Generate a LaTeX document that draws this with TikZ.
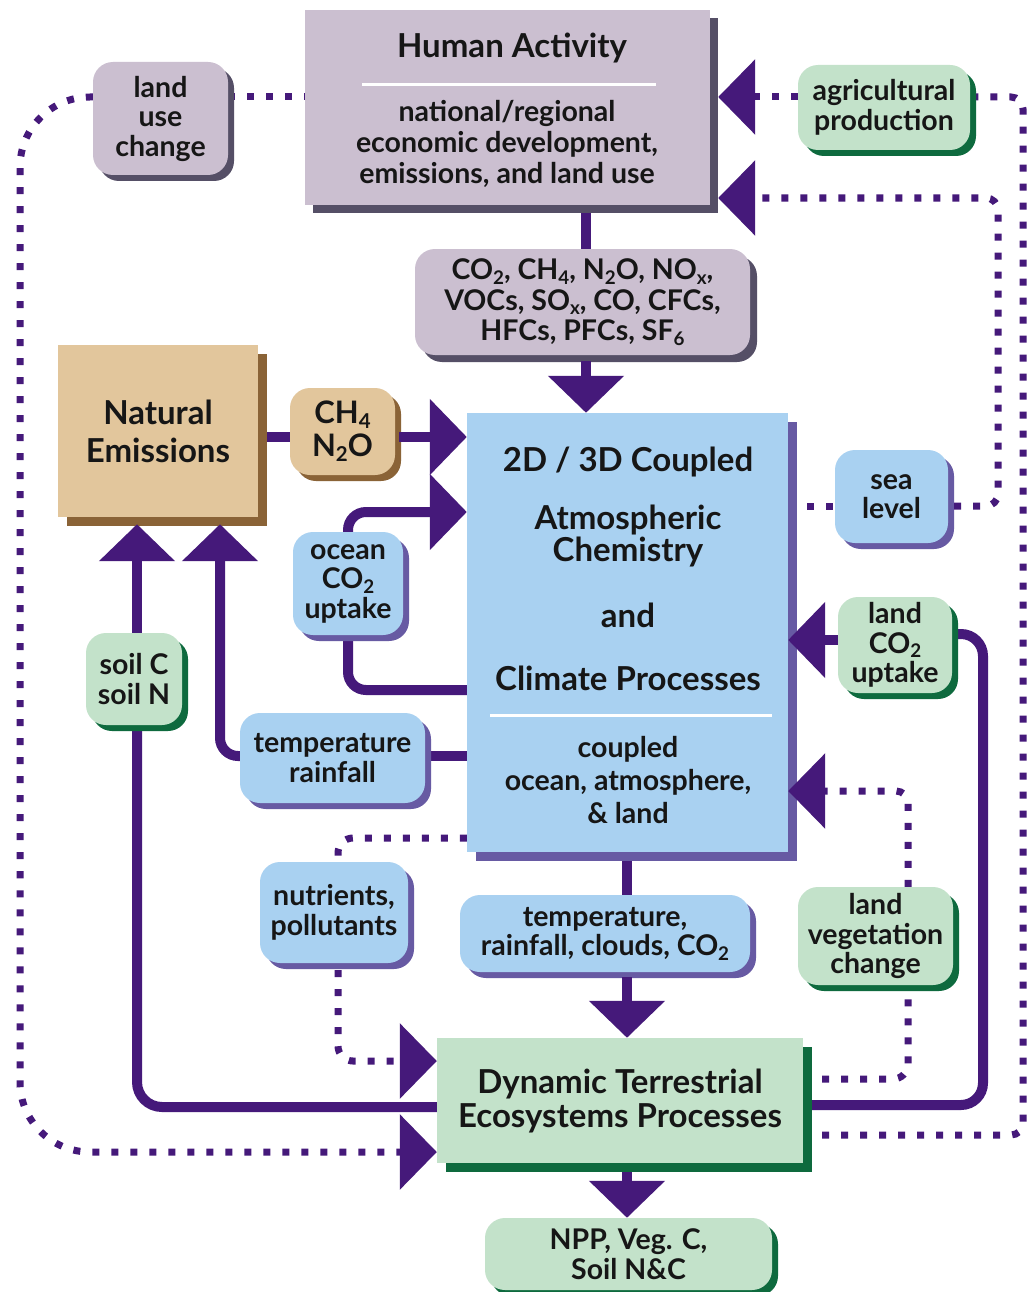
\documentclass[tikz,border=0pt]{standalone}
\usepackage{fontspec}
\setmainfont{Lato}
\usetikzlibrary{arrows.meta,shadows,backgrounds}
\definecolor{cLav}{HTML}{CBBFD0}
\definecolor{cLavSh}{HTML}{554F66}
\definecolor{cSky}{HTML}{A9D1F1}
\definecolor{cSkySh}{HTML}{675AA3}
\definecolor{cMint}{HTML}{C3E2CA}
\definecolor{cMintSh}{HTML}{0E6A3E}
\definecolor{cTan}{HTML}{E2C69C}
\definecolor{cTanSh}{HTML}{8A6337}
\definecolor{cInk}{HTML}{45197A}
\definecolor{cTxt}{HTML}{161616}
\newcommand\bodyf{\fontsize{28.5}{29.5}\selectfont\bfseries}
\newcommand\titlef{\fontsize{33}{34}\selectfont\bfseries}
\newcommand\lsb[1]{\raisebox{-0.16em}{\scalebox{0.66}{#1}}}
\tikzset{
  bx/.style={inner sep=0pt, align=center, text=cTxt, font=\bodyf},
  rbx/.style={bx, rounded corners=20pt},
  lavf/.style={fill=cLav, general shadow={fill=cLavSh, shadow xshift=#1, shadow yshift=-#1}},
  lavf/.default=6pt,
  skyf/.style={fill=cSky, general shadow={fill=cSkySh, shadow xshift=#1, shadow yshift=-#1}},
  skyf/.default=6pt,
  mintf/.style={fill=cMint, general shadow={fill=cMintSh, shadow xshift=#1, shadow yshift=-#1}},
  mintf/.default=6pt,
  tanf/.style={fill=cTan, general shadow={fill=cTanSh, shadow xshift=#1, shadow yshift=-#1}},
  tanf/.default=6pt,
  flow/.style={draw=cInk, line width=10pt},
  dotl/.style={draw=cInk, line width=7pt, dash pattern=on 7pt off 12pt},
  tipx/.style={-{Triangle[length=37pt,width=74pt]}},
  txt/.style={inner sep=0pt, align=center, text=cTxt},
  divl/.style={draw=white, line width=3pt},
}
\begin{document}
\begin{tikzpicture}[x=1pt,y=-1pt]
\useasboundingbox (0,0) rectangle (1030,1292);
% helper coordinates for connector routes
\coordinate (xg) at (586,0);
\coordinate (xc) at (627,0);
\coordinate (xoc) at (348,0);
\coordinate (xtr) at (220,0);
\coordinate (xsoil) at (137,0);
\coordinate (xnu) at (338,0);
\coordinate (xlu) at (20,0);
\coordinate (xag) at (1023,0);
\coordinate (xsea) at (998,0);
\coordinate (xlc) at (983,0);
\coordinate (xlv) at (908,0);
\coordinate (yce) at (0,437);
\coordinate (yoc1) at (0,512);
\coordinate (yoc2) at (0,690);
\coordinate (ytr) at (0,756);
\coordinate (ysoil) at (0,1107);
\coordinate (ynu1) at (0,838);
\coordinate (ynu2) at (0,1061);
\coordinate (ytop) at (0,97);
\coordinate (ylu) at (0,1152);
\coordinate (yag) at (0,1135);
\coordinate (ysea1) at (0,198);
\coordinate (ysea2) at (0,506);
\coordinate (ylc1) at (0,640);
\coordinate (ylc2) at (0,1105);
\coordinate (ylc3) at (0,634);
\coordinate (ylv1) at (0,1079);
\coordinate (ylv2) at (0,791);

% boxes
\node[bx, lavf=8pt, minimum width=405pt, minimum height=195pt] (human) at (507.5,107.5) {};
\node[txt, font=\titlef] (humant) at (512,48) {Human Activity};
\draw[divl] (362,85) -- (656,85);
\node[txt, font=\fontsize{28.5}{31}\selectfont\bfseries] (humanb) at (507,144) {national/regional\\economic development,\\emissions, and land use};

\node[rbx, lavf, minimum width=135pt, minimum height=113pt] (landuse) at (160.5,118.5) {land\\use\\change};
\node[rbx, mintf, minimum width=172pt, minimum height=85pt] (agri) at (884,107.5) {agricultural\\production};
\node[rbx, lavf=7pt, minimum width=335pt, minimum height=106pt, font=\fontsize{28.5}{30.5}\selectfont\bfseries] (gases) at (582.5,302) {CO\lsb{2}, CH\lsb{4}, N\lsb{2}O, NO\lsb{x},\\VOCs, SO\lsb{x}, CO, CFCs,\\HFCs, PFCs, SF\lsb{6}};
\node[bx, tanf=9pt, minimum width=200pt, minimum height=172pt, font=\titlef] (natural) at (158,431) {Natural\\[4pt]Emissions};
\node[rbx, tanf, minimum width=105pt, minimum height=87pt, font=\fontsize{31}{33}\selectfont\bfseries] (ch4) at (342.5,431.5) {CH\lsb{4}\\N\lsb{2}O};

\node[bx, skyf=9pt, minimum width=321pt, minimum height=439pt] (atmos) at (627.5,632.5) {};
\node[txt, font=\titlef] (at1) at (628,462) {2D / 3D Coupled};
\node[txt, font=\fontsize{33}{32}\selectfont\bfseries] (at2) at (628,536) {Atmospheric\\Chemistry};
\node[txt, font=\titlef] (at3) at (628,615) {and};
\node[txt, font=\titlef] (at4) at (628,678) {Climate Processes};
\draw[divl] (490,715) -- (772,715);
\node[txt, font=\fontsize{28.5}{33}\selectfont\bfseries] (at5) at (628,780) {coupled\\ocean, atmosphere,\\\& land};

\node[rbx, skyf, minimum width=113pt, minimum height=93pt] (sea) at (891.5,496.5) {sea\\level};
\node[rbx, skyf, minimum width=110pt, minimum height=103pt] (ocean) at (348,583.5) {ocean\\CO\lsb{2}\\uptake};
\node[rbx, mintf, minimum width=114pt, minimum height=96pt] (landco2) at (895,645) {land\\CO\lsb{2}\\uptake};
\node[rbx, skyf, minimum width=185pt, minimum height=90pt] (temprain) at (332.5,758) {temperature\\rainfall};
\node[rbx, mintf, minimum width=96pt, minimum height=92pt] (soil) at (134,679) {soil C\\soil N};
\node[rbx, skyf, minimum width=148pt, minimum height=101pt] (nutr) at (334,912.5) {nutrients,\\pollutants};
\node[rbx, skyf, minimum width=290pt, minimum height=77pt] (tempcloud) at (605,933.5) {temperature,\\rainfall, clouds, CO\lsb{2}};
\node[rbx, mintf, minimum width=155pt, minimum height=98pt] (landveg) at (875.5,936) {land\\vegetation\\change};
\node[bx, mintf=9pt, minimum width=366pt, minimum height=125pt, font=\titlef] (dyn) at (620,1100.5) {Dynamic Terrestrial\\Ecosystems Processes};
\node[rbx, mintf, minimum width=287pt, minimum height=72pt] (npp) at (628.5,1254) {NPP, Veg. C,\\Soil N\&C};

% plain connectors, under the boxes
\begin{scope}[on background layer]
\fill[white] (0,0) rectangle (1030,1292);
\draw[flow] (human.south -| xg) -- (gases.north -| xg);
\draw[flow] (natural.east |- yce) -- (ch4.west |- yce);
\draw[flow, rounded corners=18pt] (atmos.west |- yoc2) -| (ocean.south -| xoc);
\draw[flow] (atmos.west |- ytr) -- (temprain.east |- ytr);
\draw[flow, rounded corners=25pt] (dyn.west |- ysoil) -| (soil.south -| xsoil);
\draw[flow, rounded corners=22pt] (dyn.east |- ylc2) -| (xlc |- ylc3) -- (landco2.east |- ylc3);
\draw[flow] (atmos.south -| xc) -- (tempcloud.north -| xc);
\draw[dotl] (landuse.east |- ytop) -- (human.west |- ytop);
\draw[dotl, rounded corners=12pt] (dyn.east |- yag) -| (xag |- ytop) -- (agri.east |- ytop);
\draw[dotl] (atmos.east |- ysea2) -- (sea.west |- ysea2);
\draw[dotl, rounded corners=15pt] (atmos.west |- ynu1) -| (nutr.north -| xnu);
\draw[dotl, rounded corners=15pt] (dyn.east |- ylv1) -| (landveg.south -| xlv);
\end{scope}

% connectors with arrow heads
\draw[flow, tipx, shorten <=6pt] (gases.south -| xg) -- (atmos.north -| xg);
\draw[flow, tipx, shorten <=4pt] (ch4.east |- yce) -- (atmos.west |- yce);
\draw[flow, tipx, rounded corners=18pt] (ocean.north -| xoc) |- (atmos.west |- yoc1);
\draw[flow, tipx, rounded corners=18pt, shorten >=7pt] (temprain.west |- ytr) -| (natural.south -| xtr);
\draw[flow, tipx, shorten >=7pt] (soil.north -| xsoil) -- (natural.south -| xsoil);
\draw[flow, tipx] (landco2.west |- ylc1) -- (atmos.east |- ylc1);
\draw[flow, tipx, shorten <=5pt] (tempcloud.south -| xc) -- (dyn.north -| xc);
\draw[flow, tipx, shorten <=9pt] (dyn.south -| xc) -- (npp.north -| xc);
\draw[dotl, tipx, rounded corners=15pt, shorten <=7pt] (nutr.south -| xnu) |- (dyn.west |- ynu2);
\draw[dotl, tipx, rounded corners=70pt] (landuse.west |- ytop) -| (xlu |- ylu) -- (dyn.west |- ylu);
\draw[dotl, tipx, shorten >=8pt] (agri.west |- ytop) -- (human.east |- ytop);
\draw[dotl, tipx, rounded corners=12pt, shorten <=6pt, shorten >=8pt] (sea.east |- ysea2) -| (xsea |- ysea1) -- (human.east |- ysea1);
\draw[dotl, tipx, rounded corners=12pt] (landveg.north -| xlv) |- (atmos.east |- ylv2);
\end{tikzpicture}
\end{document}
